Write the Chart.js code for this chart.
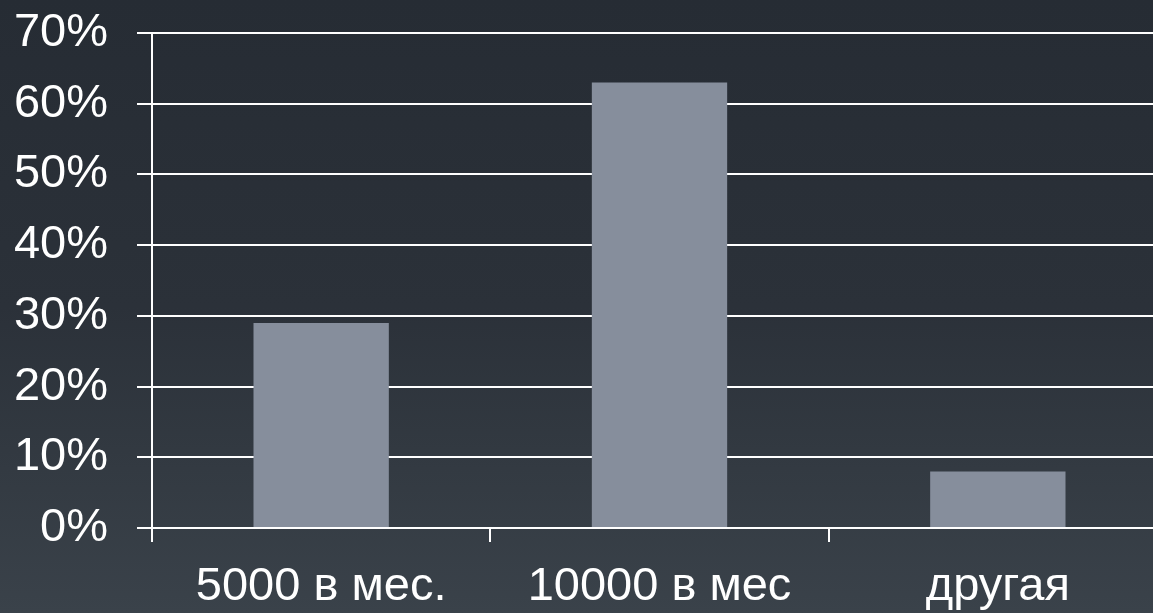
<!DOCTYPE html>
<html>
<head>
<meta charset="utf-8">
<script src="https://cdn.jsdelivr.net/npm/chart.js@4/dist/chart.umd.min.js"></script>
<style>
  html, body {
    margin: 0;
    padding: 0;
    width: 1153px;
    height: 613px;
    overflow: hidden;
    background: linear-gradient(to bottom, #262c34 0%, #2b3139 50%, #3a424a 100%);
  }
  #chart {
    position: absolute;
    left: 0;
    top: 0;
  }
</style>
</head>
<body>
<canvas id="chart" width="1167" height="613"></canvas>
<script>
// Chart data
const categories = ['5000 в мес.', '10000 в мес', 'другая'];
const shares = [29, 63, 8];
const yTicks = [0, 10, 20, 30, 40, 50, 60, 70];

const fontFamily = '"Liberation Sans", Arial, sans-serif';
const white = '#ffffff';

const ctx = document.getElementById('chart').getContext('2d');

new Chart(ctx, {
  type: 'bar',
  data: {
    labels: categories,
    datasets: [{
      data: shares,
      backgroundColor: '#868e9c',
      borderWidth: 0,
      barPercentage: 0.4,
      categoryPercentage: 1
    }]
  },
  options: {
    responsive: false,
    animation: false,
    devicePixelRatio: 1,
    layout: {
      padding: { top: 33, right: 0, left: 0, bottom: 0 }
    },
    plugins: {
      legend: { display: false },
      tooltip: { enabled: false }
    },
    scales: {
      x: {
        z: 1,
        grid: {
          offset: true,
          drawOnChartArea: false,
          color: white,
          lineWidth: 2,
          tickLength: 14
        },
        border: { color: white, width: 2 },
        ticks: {
          color: white,
          padding: 17,
          maxRotation: 0,
          font: { family: fontFamily, size: 47 }
        },
        afterFit: (scale) => {
          scale.height = 85;
          scale.paddingLeft = 0;
          scale.paddingRight = 0;
        }
      },
      y: {
        min: 0,
        max: 70,
        afterBuildTicks: (scale) => {
          scale.ticks = yTicks.map(v => ({ value: v }));
        },
        grid: {
          color: white,
          lineWidth: 2,
          tickLength: 15
        },
        border: { color: white, width: 2 },
        ticks: {
          color: white,
          padding: 29,
          font: { family: fontFamily, size: 47 },
          callback: (v) => v + '%'
        },
        afterFit: (scale) => {
          scale.width = 152;
          scale.paddingTop = 0;
          scale.paddingBottom = 0;
        }
      }
    }
  }
});
</script>
</body>
</html>
